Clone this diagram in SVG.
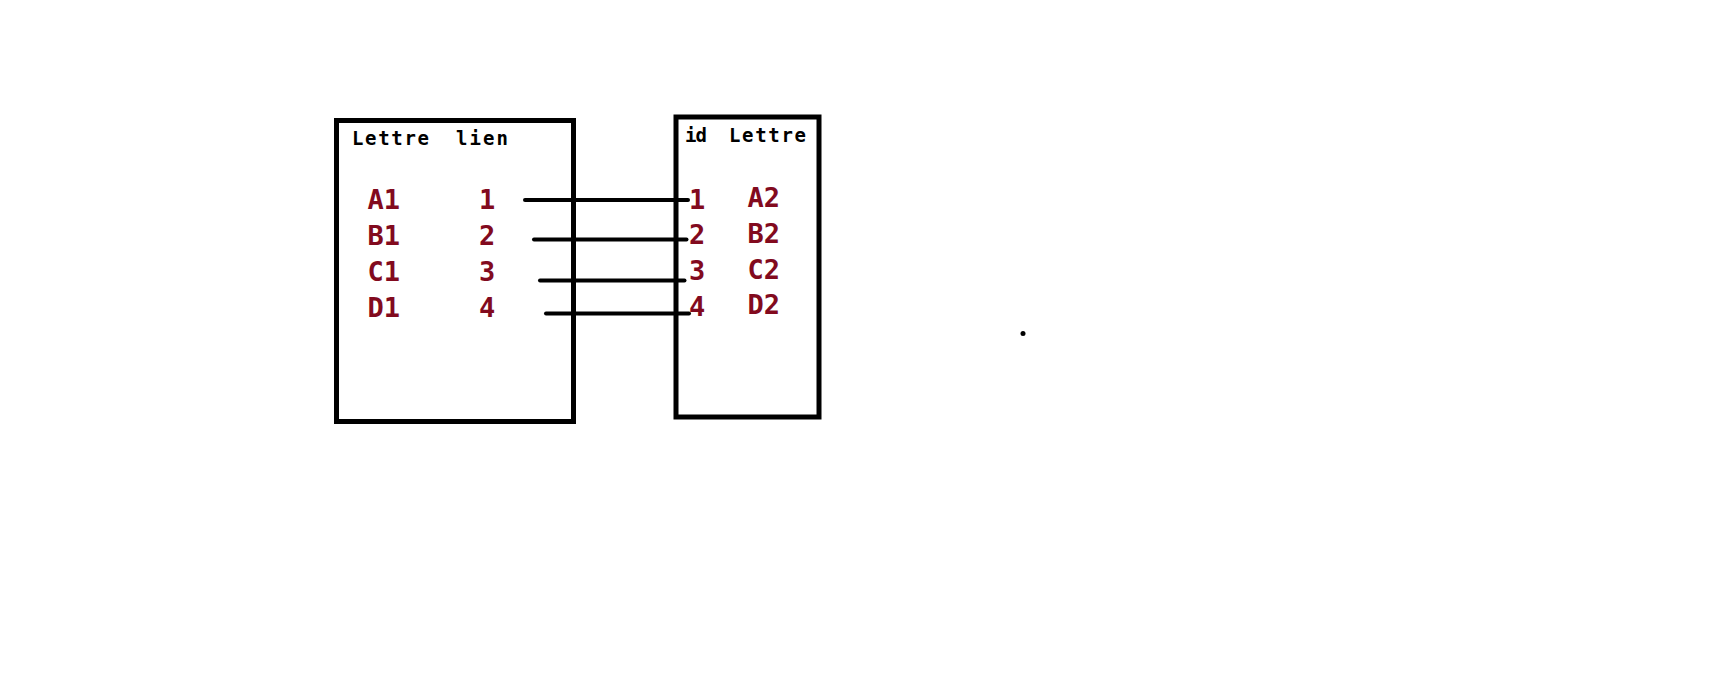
<svg xmlns="http://www.w3.org/2000/svg" width="1731" height="689" viewBox="0 0 1731 689">
<style>
.box{fill:none;stroke:#000;stroke-width:5}
.hdr{font-family:"DejaVu Sans Mono","Liberation Mono",monospace;font-weight:bold;font-size:19px;fill:#000}
.val{font-family:"DejaVu Sans Mono","Liberation Mono",monospace;font-weight:bold;font-size:27px;fill:#820a1e}
.link{stroke:#000;stroke-width:4;stroke-linecap:round;fill:none}
</style>
<rect width="1731" height="689" fill="#fff"/>
<g id="table1">
<rect class="box" x="336.5" y="120.5" width="237" height="301"/>
<text class="hdr" x="352" y="144.5" textLength="77">Lettre</text>
<text class="hdr" x="456" y="144.5" textLength="52">lien</text>
<text class="val" x="367.5" y="209">A1</text>
<text class="val" x="367.5" y="245">B1</text>
<text class="val" x="367.5" y="281">C1</text>
<text class="val" x="367.5" y="317">D1</text>
<text class="val" x="479" y="209">1</text>
<text class="val" x="479" y="245">2</text>
<text class="val" x="479" y="281">3</text>
<text class="val" x="479" y="317">4</text>
</g>
<g id="table2">
<rect class="box" x="676" y="117" width="143" height="300"/>
<text class="hdr" x="685" y="141.5" textLength="22">id</text>
<text class="hdr" x="729" y="141.5" textLength="77">Lettre</text>
<text class="val" x="689" y="208.5">1</text>
<text class="val" x="689" y="244">2</text>
<text class="val" x="689" y="280">3</text>
<text class="val" x="689" y="316">4</text>
<text class="val" x="747.5" y="207">A2</text>
<text class="val" x="747.5" y="243">B2</text>
<text class="val" x="747.5" y="278.5">C2</text>
<text class="val" x="747.5" y="314">D2</text>
</g>
<g id="connectors">
<line class="link" x1="525" y1="200" x2="688" y2="200"/>
<line class="link" x1="534" y1="239.5" x2="686.5" y2="239.5"/>
<line class="link" x1="540" y1="280.5" x2="684.5" y2="280.5"/>
<line class="link" x1="546" y1="313.5" x2="689" y2="313.5"/>
</g>
<circle cx="1023" cy="333.5" r="2.5" fill="#000"/>
</svg>
